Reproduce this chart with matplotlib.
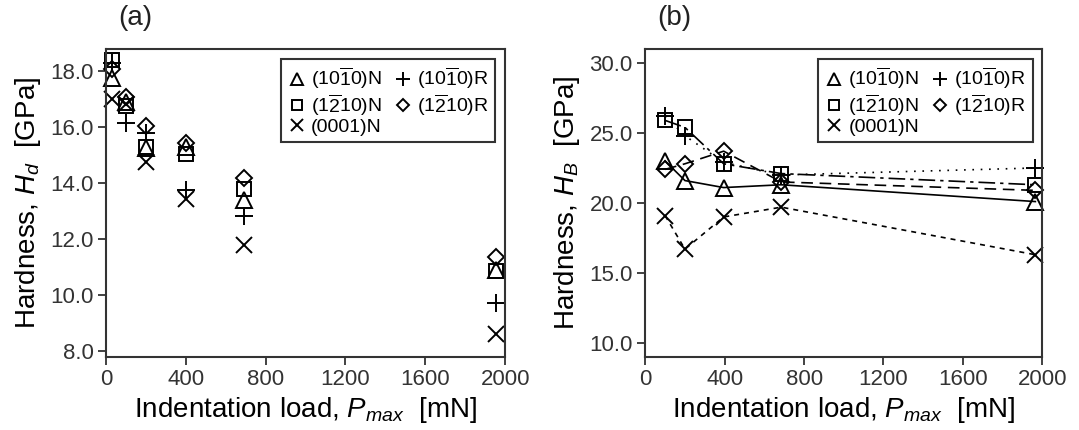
import matplotlib
matplotlib.use("Agg")
import matplotlib.pyplot as plt

plt.rcParams["font.family"] = ["Liberation Sans", "DejaVu Sans"]
plt.rcParams["mathtext.fontset"] = "custom"
plt.rcParams["mathtext.rm"] = "Liberation Sans"
plt.rcParams["mathtext.it"] = "Liberation Sans:italic"

# panel (a): dynamic hardness H_d
loads_a = [30, 100, 200, 400, 690, 1955]
hd_1010N = [17.75, 16.9, 15.25, 15.3, 13.4, 10.9]
hd_1210N = [18.4, 16.75, 15.3, 15.05, 13.8, 10.87]
hd_0001N = [17.0, 16.85, 14.75, 13.45, 11.8, 8.63]
hd_1010R = [18.3, 16.15, 15.8, 13.75, 12.82, 9.72]
hd_1210R = [18.1, 17.1, 16.05, 15.45, 14.2, 11.37]

# panel (b): hardness H_B
loads_b = [100, 200, 395, 685, 1965]
hb_1010N = [23.0, 21.6, 21.1, 21.3, 20.1]
hb_1210N = [25.9, 25.4, 22.8, 22.1, 21.3]
hb_0001N = [19.1, 16.7, 19.0, 19.7, 16.3]
hb_1010R = [26.2, 24.8, 22.9, 22.0, 22.5]
hb_1210R = [22.4, 22.8, 23.7, 21.5, 20.9]

labels = ["(10$\\overline{1}$0)N", "(1$\\overline{2}$10)N", "(0001)N",
          "(10$\\overline{1}$0)R", "(1$\\overline{2}$10)R"]
markers = ["^", "s", "x", "+", "D"]
msizes = [11, 10, 12, 13, 8]
styles = ["-", (0, (10, 3, 2, 3)), (0, (3, 3)), (0, (1, 4)), (0, (7, 4))]

fig = plt.figure(figsize=(10.79, 4.30), dpi=100)
ax_a = fig.add_axes([0.0982, 0.170, 0.370, 0.716])
ax_b = fig.add_axes([0.5980, 0.170, 0.368, 0.716])

series_a = [hd_1010N, hd_1210N, hd_0001N, hd_1010R, hd_1210R]
series_b = [hb_1010N, hb_1210N, hb_0001N, hb_1010R, hb_1210R]

for ys, lab, m, ms in zip(series_a, labels, markers, msizes):
    ax_a.plot(loads_a, ys, linestyle="none", marker=m, markersize=ms,
              markerfacecolor="none", markeredgecolor="black",
              markeredgewidth=1.4, label=lab, clip_on=False)

for ys, lab, m, ms, ls in zip(series_b, labels, markers, msizes, styles):
    ax_b.plot(loads_b, ys, linestyle=ls, color="black", linewidth=1.2,
              marker=m, markersize=ms, markerfacecolor="none",
              markeredgecolor="black", markeredgewidth=1.4, label=lab,
              clip_on=False)

ax_a.set_ylim(7.8, 18.8)
ax_a.set_yticks([8, 10, 12, 14, 16, 18])
ax_a.set_ylabel("Hardness, $H_d$  [GPa]", fontsize=20, labelpad=5)
ax_b.set_ylim(9.0, 31.0)
ax_b.set_yticks([10, 15, 20, 25, 30])
ax_b.set_ylabel("Hardness, $H_B$  [GPa]", fontsize=20, labelpad=5)

for ax, tag in [(ax_a, "(a)"), (ax_b, "(b)")]:
    ax.set_xlim(0, 2000)
    ax.set_xticks([0, 400, 800, 1200, 1600, 2000])
    ax.yaxis.set_major_formatter(matplotlib.ticker.FormatStrFormatter("%.1f"))
    ax.set_xlabel("Indentation load, $P_{max}$  [mN]", fontsize=20, labelpad=3)
    ax.tick_params(direction="out", length=6, width=1.3, labelsize=16,
                   colors="#333333", labelcolor="#333333", pad=3)
    for sp in ax.spines.values():
        sp.set_linewidth(1.5)
        sp.set_color("#333333")
    ax.text(0.03, 1.06, tag, transform=ax.transAxes, fontsize=20,
            ha="left", va="bottom", color="#222222")
    leg = ax.legend(ncol=2, loc="upper right", fontsize=14, frameon=True,
                    fancybox=False, edgecolor="#333333", framealpha=1,
                    markerscale=0.75, handlelength=0.9, handletextpad=0.3,
                    columnspacing=0.6, labelspacing=0.02, borderpad=0.35,
                    borderaxespad=0.5)
    leg.get_frame().set_linewidth(1.5)
    for h in leg.legend_handles:
        h.set_linestyle("none")

fig.savefig("out.png", dpi=100, facecolor="white")
